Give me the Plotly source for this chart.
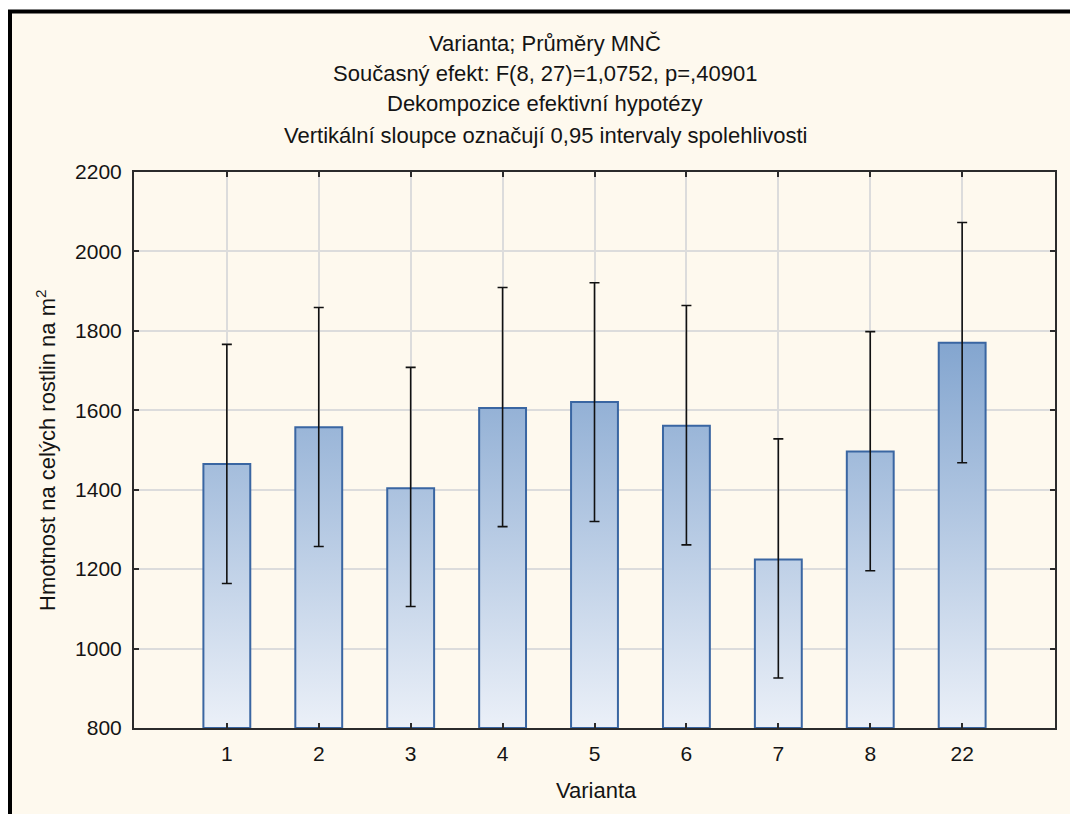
import plotly.graph_objects as go

# ---- data ----
categories = ["1", "2", "3", "4", "5", "6", "7", "8", "22"]
means = [1465, 1557, 1404, 1606, 1621, 1561, 1224, 1496, 1770]
ci_lower = [1164, 1257, 1106, 1307, 1320, 1261, 926, 1196, 1468]
ci_upper = [1766, 1859, 1708, 1909, 1921, 1864, 1528, 1798, 2073]
y_ticks = [800, 1000, 1200, 1400, 1600, 1800, 2000, 2200]

title_lines = [
    "Varianta; Průměry MNČ",
    "Současný efekt: F(8, 27)=1,0752, p=,40901",
    "Dekompozice efektivní hypotézy",
    "Vertikální sloupce označují 0,95 intervaly spolehlivosti",
]

# ---- layout constants ----
W, H = 1070, 814
ML, MR, MT, MB = 134, 15, 172, 86
PW, PH = W - ML - MR, H - MT - MB
y_min, y_max = 800, 2200
bar_half = 0.255
cream = "#FEF9EE"
font = "Liberation Sans, Arial, sans-serif"
FS = 21
FT = 22


def px_x(p):
    return (p - ML) / PW


def px_y(p):
    return (H - MB - p) / PH


fig = go.Figure()

xs = list(range(len(categories)))
for i, v in zip(xs, means):
    fig.add_trace(go.Scatter(
        x=[i - bar_half, i - bar_half, i + bar_half, i + bar_half, i - bar_half],
        y=[y_min, v, v, y_min, y_min],
        mode="lines",
        fill="toself",
        fillgradient=dict(
            type="vertical",
            start=y_min,
            stop=1800,
            colorscale=[[0, "#EBF0F8"], [1, "#80A3CE"]],
        ),
        line=dict(color="#3A66A2", width=2),
        hoverinfo="skip",
        showlegend=False,
    ))

fig.add_trace(go.Scatter(
    x=xs,
    y=means,
    mode="markers",
    marker=dict(size=1, opacity=0),
    error_y=dict(
        type="data",
        symmetric=False,
        array=[u - m for u, m in zip(ci_upper, means)],
        arrayminus=[m - l for l, m in zip(ci_lower, means)],
        color="#111111",
        thickness=1.6,
        width=5,
    ),
    hoverinfo="skip",
    showlegend=False,
))

annotations = []
title_y_px = [43, 73, 103, 135]
for t, yp in zip(title_lines, title_y_px):
    annotations.append(dict(
        text=t, x=px_x(545), y=px_y(yp), xref="paper", yref="paper",
        xanchor="center", yanchor="middle", showarrow=False,
        font=dict(family=font, size=FT, color="#141414"),
    ))
annotations.append(dict(
    text="Hmotnost na celých rostlin na m<sup>2</sup>",
    x=px_x(46), y=px_y(450), xref="paper", yref="paper",
    xanchor="center", yanchor="middle", textangle=-90, showarrow=False,
    font=dict(family=font, size=FT, color="#141414"),
))
annotations.append(dict(
    text="Varianta",
    x=px_x(596), y=px_y(790), xref="paper", yref="paper",
    xanchor="center", yanchor="middle", showarrow=False,
    font=dict(family=font, size=FT, color="#141414"),
))

fig.update_layout(
    width=W, height=H,
    margin=dict(l=ML, r=MR, t=MT, b=MB, pad=0),
    paper_bgcolor="white",
    plot_bgcolor=cream,
    showlegend=False,
    annotations=annotations,
    shapes=[dict(
        type="rect", xref="paper", yref="paper", layer="below",
        x0=px_x(10), x1=px_x(1090), y0=px_y(11.5), y1=px_y(840),
        fillcolor=cream, line=dict(color="black", width=4),
    )],
    xaxis=dict(
        range=[-1.01, 9.01],
        tickmode="array", tickvals=xs, ticktext=categories,
        showgrid=True, gridcolor="#DCDCDC", gridwidth=1.5,
        zeroline=False,
        showline=True, linecolor="#2b2b2b", linewidth=2, mirror="ticks",
        ticks="inside", ticklen=5, tickwidth=1.5, tickcolor="#2b2b2b",
        ticklabelstandoff=6,
        tickfont=dict(family=font, size=FS, color="#141414"),
    ),
    yaxis=dict(
        range=[y_min, y_max],
        tickmode="array", tickvals=y_ticks,
        showgrid=True, gridcolor="#DCDCDC", gridwidth=1.5,
        zeroline=False,
        showline=True, linecolor="#2b2b2b", linewidth=2, mirror="ticks",
        ticks="inside", ticklen=5, tickwidth=1.5, tickcolor="#2b2b2b",
        ticklabelstandoff=6,
        tickfont=dict(family=font, size=FS, color="#141414"),
    ),
)

fig.write_html("out.html")
